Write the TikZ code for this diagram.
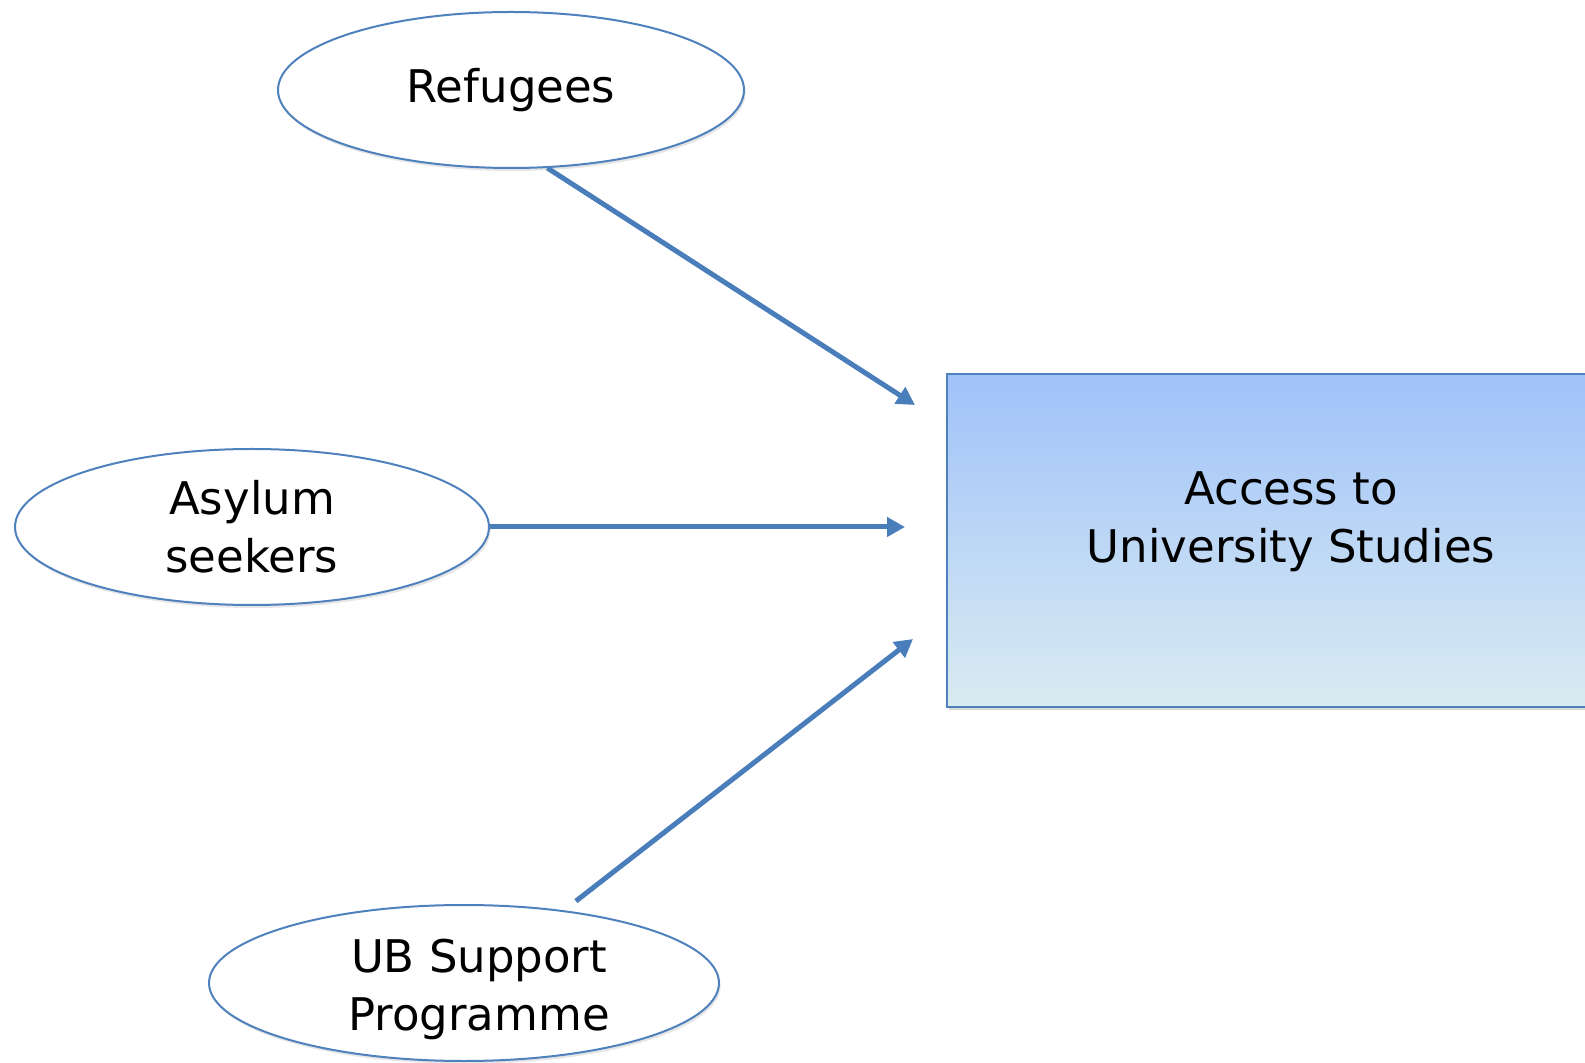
\documentclass[tikz,border=0pt]{standalone}
\usepackage{fontspec}
\setmainfont{DejaVu Sans}
\usetikzlibrary{shapes.geometric,arrows.meta,shadows}
\definecolor{edgeblue}{HTML}{4F81BD}
\definecolor{arrowblue}{HTML}{4A7EBB}
\definecolor{boxtop}{HTML}{A0C2FA}
\definecolor{boxbottom}{HTML}{D9EBF1}

\begin{document}
\begin{tikzpicture}[
  x=0.5pt,
  y=-0.5pt,
  oval/.style={
    ellipse,
    draw=edgeblue,
    line width=1pt,
    fill=white,
    inner sep=0pt,
    minimum height=78pt,
    drop shadow={shadow xshift=0.8pt,shadow yshift=-1.5pt,opacity=0.2}
  },
  caption/.style={
    align=center,
    inner sep=0pt,
    font=\fontsize{22.5}{29}\selectfont
  },
  goal/.style={
    rectangle,
    draw=edgeblue,
    line width=1pt,
    top color=boxtop,
    bottom color=boxbottom,
    minimum width=344pt,
    minimum height=166.5pt,
    drop shadow={shadow xshift=0.8pt,shadow yshift=-1.5pt,opacity=0.3}
  },
  feed/.style={
    draw=arrowblue,
    line width=2.5pt,
    -{Triangle[length=9pt,width=9.5pt]}
  },
]
\clip (0,0) rectangle (1585,1063);
\node[goal] (access) at (1291,540.5) {};
\node[caption] (accesstext) at (1291,522) {Access to\\University Studies};
\node[oval,caption,minimum width=233pt] (refugees) at (511,90) {Refugees};
\node[oval,caption,minimum width=237pt] (asylum) at (252,527) {Asylum\\seekers};
\node[oval,minimum width=255pt] (ub) at (464,983) {};
\node[caption] (ubtext) at (479,989) {UB Support\\Programme};
\coordinate (refend) at (915,405);
\coordinate (asyend) at (905,527);
\coordinate (ubend) at (913,639);
\draw[feed] (refugees.-65) -- (refend);
\draw[feed] (asylum.east) -- (asyend);
\draw[feed,shorten <=7.5pt] (ub.36) -- (ubend);
\end{tikzpicture}
\end{document}
